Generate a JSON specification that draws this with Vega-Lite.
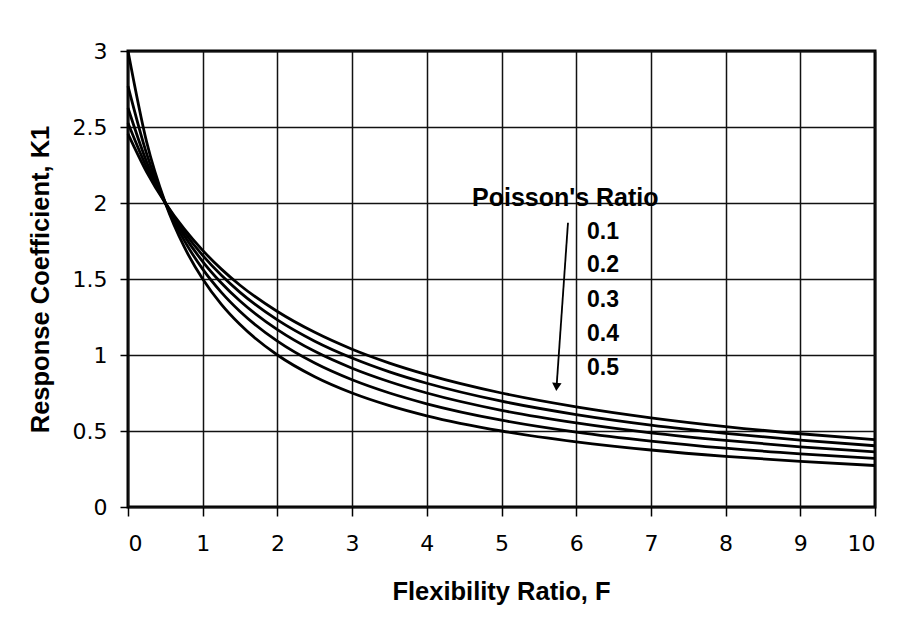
{
  "$schema": "https://vega.github.io/schema/vega-lite/v6.json",
  "width": 747,
  "height": 456,
  "autosize": {"type": "none"},
  "padding": {"left": 128, "top": 51, "right": 31, "bottom": 110},
  "background": "white",
  "config": {
    "font": "Liberation Sans",
    "view": {"stroke": "black", "strokeWidth": 3},
    "axis": {
      "grid": true,
      "gridColor": "#111111",
      "gridWidth": 1.5,
      "gridOpacity": 1,
      "domain": false,
      "tickColor": "black",
      "tickWidth": 1.5,
      "labelColor": "black",
      "titleFont": "Liberation Sans",
      "titleFontWeight": "bold",
      "titleColor": "black"
    }
  },
  "datasets": {
    "curves": [
      {"F": 0, "K": 2.455, "nu": "0.1"}, {"F": 0.25, "K": 2.204, "nu": "0.1"}, {"F": 0.5, "K": 2.0, "nu": "0.1"}, {"F": 0.75, "K": 1.831, "nu": "0.1"}, {"F": 1, "K": 1.688, "nu": "0.1"}, {"F": 1.25, "K": 1.565, "nu": "0.1"}, {"F": 1.5, "K": 1.459, "nu": "0.1"}, {"F": 2, "K": 1.286, "nu": "0.1"}, {"F": 2.5, "K": 1.149, "nu": "0.1"}, {"F": 3, "K": 1.038, "nu": "0.1"}, {"F": 3.5, "K": 0.947, "nu": "0.1"}, {"F": 4, "K": 0.871, "nu": "0.1"}, {"F": 5, "K": 0.75, "nu": "0.1"}, {"F": 6, "K": 0.659, "nu": "0.1"}, {"F": 7, "K": 0.587, "nu": "0.1"}, {"F": 8, "K": 0.529, "nu": "0.1"}, {"F": 9, "K": 0.482, "nu": "0.1"}, {"F": 10, "K": 0.443, "nu": "0.1"},
      {"F": 0, "K": 2.526, "nu": "0.2"}, {"F": 0.25, "K": 2.233, "nu": "0.2"}, {"F": 0.5, "K": 2.0, "nu": "0.2"}, {"F": 0.75, "K": 1.811, "nu": "0.2"}, {"F": 1, "K": 1.655, "nu": "0.2"}, {"F": 1.25, "K": 1.524, "nu": "0.2"}, {"F": 1.5, "K": 1.412, "nu": "0.2"}, {"F": 2, "K": 1.231, "nu": "0.2"}, {"F": 2.5, "K": 1.091, "nu": "0.2"}, {"F": 3, "K": 0.98, "nu": "0.2"}, {"F": 3.5, "K": 0.889, "nu": "0.2"}, {"F": 4, "K": 0.814, "nu": "0.2"}, {"F": 5, "K": 0.696, "nu": "0.2"}, {"F": 6, "K": 0.608, "nu": "0.2"}, {"F": 7, "K": 0.539, "nu": "0.2"}, {"F": 8, "K": 0.485, "nu": "0.2"}, {"F": 9, "K": 0.44, "nu": "0.2"}, {"F": 10, "K": 0.403, "nu": "0.2"},
      {"F": 0, "K": 2.625, "nu": "0.3"}, {"F": 0.25, "K": 2.27, "nu": "0.3"}, {"F": 0.5, "K": 2.0, "nu": "0.3"}, {"F": 0.75, "K": 1.787, "nu": "0.3"}, {"F": 1, "K": 1.615, "nu": "0.3"}, {"F": 1.25, "K": 1.474, "nu": "0.3"}, {"F": 1.5, "K": 1.355, "nu": "0.3"}, {"F": 2, "K": 1.167, "nu": "0.3"}, {"F": 2.5, "K": 1.024, "nu": "0.3"}, {"F": 3, "K": 0.913, "nu": "0.3"}, {"F": 3.5, "K": 0.824, "nu": "0.3"}, {"F": 4, "K": 0.75, "nu": "0.3"}, {"F": 5, "K": 0.636, "nu": "0.3"}, {"F": 6, "K": 0.553, "nu": "0.3"}, {"F": 7, "K": 0.488, "nu": "0.3"}, {"F": 8, "K": 0.438, "nu": "0.3"}, {"F": 9, "K": 0.396, "nu": "0.3"}, {"F": 10, "K": 0.362, "nu": "0.3"},
      {"F": 0, "K": 2.769, "nu": "0.4"}, {"F": 0.25, "K": 2.323, "nu": "0.4"}, {"F": 0.5, "K": 2.0, "nu": "0.4"}, {"F": 0.75, "K": 1.756, "nu": "0.4"}, {"F": 1, "K": 1.565, "nu": "0.4"}, {"F": 1.25, "K": 1.412, "nu": "0.4"}, {"F": 1.5, "K": 1.286, "nu": "0.4"}, {"F": 2, "K": 1.091, "nu": "0.4"}, {"F": 2.5, "K": 0.947, "nu": "0.4"}, {"F": 3, "K": 0.837, "nu": "0.4"}, {"F": 3.5, "K": 0.75, "nu": "0.4"}, {"F": 4, "K": 0.679, "nu": "0.4"}, {"F": 5, "K": 0.571, "nu": "0.4"}, {"F": 6, "K": 0.493, "nu": "0.4"}, {"F": 7, "K": 0.434, "nu": "0.4"}, {"F": 8, "K": 0.387, "nu": "0.4"}, {"F": 9, "K": 0.35, "nu": "0.4"}, {"F": 10, "K": 0.319, "nu": "0.4"},
      {"F": 0, "K": 3.0, "nu": "0.5"}, {"F": 0.25, "K": 2.4, "nu": "0.5"}, {"F": 0.5, "K": 2.0, "nu": "0.5"}, {"F": 0.75, "K": 1.714, "nu": "0.5"}, {"F": 1, "K": 1.5, "nu": "0.5"}, {"F": 1.25, "K": 1.333, "nu": "0.5"}, {"F": 1.5, "K": 1.2, "nu": "0.5"}, {"F": 2, "K": 1.0, "nu": "0.5"}, {"F": 2.5, "K": 0.857, "nu": "0.5"}, {"F": 3, "K": 0.75, "nu": "0.5"}, {"F": 3.5, "K": 0.667, "nu": "0.5"}, {"F": 4, "K": 0.6, "nu": "0.5"}, {"F": 5, "K": 0.5, "nu": "0.5"}, {"F": 6, "K": 0.429, "nu": "0.5"}, {"F": 7, "K": 0.375, "nu": "0.5"}, {"F": 8, "K": 0.333, "nu": "0.5"}, {"F": 9, "K": 0.3, "nu": "0.5"}, {"F": 10, "K": 0.273, "nu": "0.5"}
    ],
    "arrow": [{"x1": 5.89, "y1": 1.87, "x2": 5.737, "y2": 0.79}],
    "head": [{"x": 5.737, "y": 0.79}],
    "title": [{"x": 4.605, "y": 2.033, "label": "Poisson's Ratio"}],
    "values": [
      {"x": 6.145, "y": 1.809, "label": "0.1"},
      {"x": 6.145, "y": 1.592, "label": "0.2"},
      {"x": 6.145, "y": 1.362, "label": "0.3"},
      {"x": 6.145, "y": 1.138, "label": "0.4"},
      {"x": 6.145, "y": 0.914, "label": "0.5"}
    ]
  },
  "layer": [
    {
      "data": {"name": "curves"},
      "mark": {"type": "line", "color": "black", "strokeWidth": 2.8, "interpolate": "monotone"},
      "encoding": {
        "x": {
          "field": "F", "type": "quantitative",
          "scale": {"domain": [0, 10], "nice": false},
          "axis": {
            "values": [0, 1, 2, 3, 4, 5, 6, 7, 8, 9, 10],
            "format": "~g",
            "labelFontSize": 22,
            "labelFont": "DejaVu Sans",
            "tickSize": 9,
            "labelPadding": 17,
            "title": "Flexibility Ratio, F",
            "titleFontSize": 25.5,
            "titleX": 373,
            "titleY": 84,
            "titleBaseline": "middle",
            "titleAnchor": "middle"
          }
        },
        "y": {
          "field": "K", "type": "quantitative",
          "scale": {"domain": [0, 3], "nice": false, "zero": false},
          "axis": {
            "values": [0, 0.5, 1, 1.5, 2, 2.5, 3],
            "format": "~g",
            "labelFontSize": 22,
            "labelFont": "DejaVu Sans",
            "tickSize": 8,
            "labelPadding": 13,
            "title": "Response Coefficient,  K1",
            "titleFontSize": 25.5,
            "titleAngle": -90,
            "titleX": -88,
            "titleY": 228,
            "titleBaseline": "middle",
            "titleAlign": "center"
          }
        },
        "detail": {"field": "nu", "type": "nominal"}
      }
    },
    {
      "data": {"name": "arrow"},
      "mark": {"type": "rule", "color": "black", "strokeWidth": 1.8},
      "encoding": {
        "x": {"field": "x1", "type": "quantitative"},
        "y": {"field": "y1", "type": "quantitative"},
        "x2": {"field": "x2"},
        "y2": {"field": "y2"}
      }
    },
    {
      "data": {"name": "head"},
      "mark": {"type": "point", "shape": "triangle-down", "filled": true, "color": "black", "size": 90, "angle": 4, "opacity": 1},
      "encoding": {
        "x": {"field": "x", "type": "quantitative"},
        "y": {"field": "y", "type": "quantitative"}
      }
    },
    {
      "data": {"name": "title"},
      "mark": {"type": "text", "align": "left", "baseline": "middle", "fontSize": 25, "fontWeight": "bold", "color": "black", "font": "Liberation Sans"},
      "encoding": {
        "x": {"field": "x", "type": "quantitative"},
        "y": {"field": "y", "type": "quantitative"},
        "text": {"field": "label"}
      }
    },
    {
      "data": {"name": "values"},
      "mark": {"type": "text", "align": "left", "baseline": "middle", "fontSize": 23, "fontWeight": "bold", "color": "black", "font": "Liberation Sans"},
      "encoding": {
        "x": {"field": "x", "type": "quantitative"},
        "y": {"field": "y", "type": "quantitative"},
        "text": {"field": "label"}
      }
    }
  ]
}
